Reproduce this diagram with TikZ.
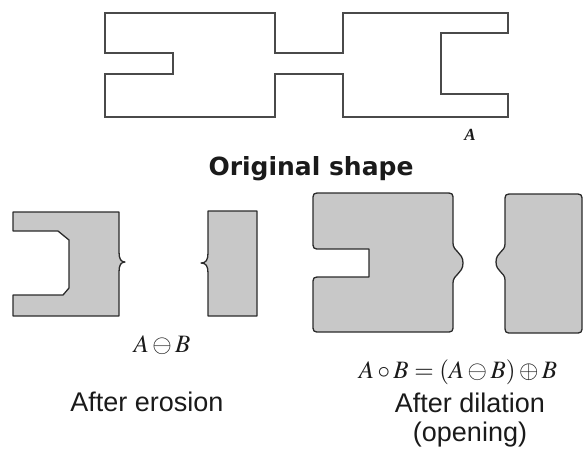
\documentclass[tikz,border=0pt]{standalone}
\usepackage{mathptmx}
\usepackage[no-math]{fontspec}
\setmainfont{Liberation Sans}
\newfontfamily\headfont{DejaVu Sans}
\newfontfamily\letterfont{Liberation Serif}
\usepackage{tikz}
\definecolor{outline}{HTML}{4A4A4A}
\definecolor{edge}   {HTML}{2B2B2B}
\definecolor{shade}  {HTML}{C8C8C8}
\definecolor{ink}    {HTML}{1A1A1A}
\tikzset{
  origshape/.style ={draw=outline, line width=1.8pt, line join=miter},
  resshape/.style  ={draw=edge, fill=shade, line width=1.3pt, line join=round},
  caption/.style   ={font=\fontsize{27}{31}\selectfont, text=ink,
                     anchor=base, inner sep=0pt},
  formula/.style   ={font=\fontsize{25}{30}\selectfont, text=ink,
                     anchor=base, inner sep=0pt},
}

\begin{document}
\begin{tikzpicture}[x=1pt,y=-1pt]
  \useasboundingbox (0,0) rectangle (585,451);

  % original shape A
  \draw[origshape] (105,13) -- (275,13) -- (275,53) -- (343,53) -- (343,13)
    -- (508,13) -- (508,33) -- (441,33) -- (441,94) -- (508,94) -- (508,117)
    -- (343,117) -- (343,74) -- (275,74) -- (275,117) -- (105,117) -- (105,74)
    -- (173,74) -- (173,53) -- (105,53) -- cycle;
  \node[anchor=base,inner sep=0pt,text=ink,font=\letterfont\bfseries\itshape\fontsize{17}{20}\selectfont]
    (lblA) at (470,140) {A};
  \node[anchor=base,inner sep=0pt,text=ink,font=\headfont\bfseries\fontsize{25}{30}\selectfont]
    (origcap) at (311,175) {Original shape};

  % after erosion
  \draw[resshape] (13,212) -- (119,212) -- (119,252)
    .. controls (119,259) and (121,262) .. (125,262)
    .. controls (121,262) and (119,265) .. (119,272)
    -- (119,316) -- (13,316) -- (13,295) -- (63,295) -- (69,288)
    -- (69,240) -- (58,231) -- (13,231) -- cycle;
  \draw[resshape] (208,211) -- (257,211) -- (257,316) -- (208,316) -- (208,273)
    .. controls (208,266) and (206,263) .. (201,263)
    .. controls (206,263) and (208,260) .. (208,253) -- cycle;
  \node[formula] (erosym) at (162,352) {$A\ominus B$};
  \node[caption] (erocap) at (147,411) {After erosion};

  % after dilation (opening)
  \draw[resshape] (321,193) -- (445,193) .. controls (453,193) .. (453,201)
    -- (453,243) .. controls (453,252) and (463,252) .. (463,263)
    .. controls (463,274) and (453,274) .. (453,283)
    -- (453,324) .. controls (453,332) .. (445,332) -- (321,332)
    .. controls (313,332) .. (313,324) -- (313,285) .. controls (313,277) .. (321,277)
    -- (369,277) -- (369,249) -- (321,249) .. controls (313,249) .. (313,241)
    -- (313,201) .. controls (313,193) .. (321,193) -- cycle;
  \draw[resshape] (513,194) -- (574,194) .. controls (582,194) .. (582,202)
    -- (582,325) .. controls (582,333) .. (574,333) -- (513,333)
    .. controls (505,333) .. (505,325) -- (505,280)
    .. controls (505,272) and (496,272) .. (496,262)
    .. controls (496,252) and (505,252) .. (505,244)
    -- (505,202) .. controls (505,194) .. (513,194) -- cycle;
  \node[formula] (opensym) at (458,378) {$A\circ B=(A\ominus B)\oplus B$};
  \node[caption] (dilcap) at (470,412) {After dilation};
  \node[caption] (opencap) at (470,441) {(opening)};
\end{tikzpicture}
\end{document}
